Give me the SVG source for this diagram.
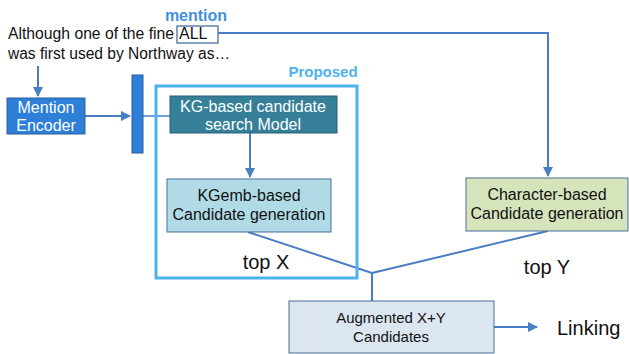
<svg xmlns="http://www.w3.org/2000/svg" width="629" height="354" viewBox="0 0 629 354">
<defs>
<style>
text{font-family:"Liberation Sans",Arial,sans-serif;}
.t{font-size:16px;fill:#111;}
.w{font-size:16px;fill:#fff;text-anchor:middle;}
.b{font-size:16px;fill:#111;text-anchor:middle;}
.big{font-size:20px;fill:#111;text-anchor:middle;}
.ln{stroke:#4a7ec4;stroke-width:2;fill:none;}
.ln1{stroke:#4a7ec4;stroke-width:1.5;fill:none;}
</style>
<marker id="ah" viewBox="0 0 10 10" refX="9" refY="5" markerWidth="5" markerHeight="5" orient="auto-start-reverse">
<path d="M0,0 L10,5 L0,10 z" fill="#4a7ec4"/>
</marker>
</defs>
<rect width="629" height="354" fill="#fff"/>

<g id="sentence">
<text class="t" x="8" y="39" textLength="166" lengthAdjust="spacingAndGlyphs">Although one of the fine</text>
<text class="t" x="179" y="39">ALL</text>
<rect x="177" y="26" width="41" height="17" fill="none" stroke="#4a6f9a" stroke-width="1.3"/>
<text class="t" x="8" y="59" textLength="222" lengthAdjust="spacingAndGlyphs">was first used by Northway as…</text>
<text x="196" y="21" font-size="16" font-weight="bold" fill="#3f8fe0" text-anchor="middle">mention</text>
</g>

<g id="connectors">
<polyline class="ln" points="218,33 548,33 548,176" marker-end="url(#ah)"/>
<line class="ln" x1="38" y1="66" x2="38" y2="96" marker-end="url(#ah)"/>
<line class="ln" x1="85" y1="116" x2="130" y2="116" marker-end="url(#ah)"/>
<line class="ln1" x1="143" y1="116" x2="170" y2="116"/>
<line class="ln" x1="250" y1="133" x2="250" y2="177" marker-end="url(#ah)"/>
<line class="ln" x1="248" y1="232" x2="372" y2="273"/>
<line class="ln" x1="548" y1="231" x2="372" y2="273"/>
<line class="ln" x1="372" y1="273" x2="372" y2="301"/>
<line class="ln" x1="494" y1="327" x2="537" y2="327" marker-end="url(#ah)"/>
</g>

<g id="mention-encoder">
<rect x="7" y="98" width="78" height="36" fill="#2d7fd8" stroke="#2a5f9a" stroke-width="1"/>
<text class="w" x="46" y="113">Mention</text>
<text class="w" x="46" y="131">Encoder</text>
</g>

<g id="embedding-bar">
<rect x="132" y="75" width="11" height="78" fill="#2d7fd8" stroke="#2a5f9a" stroke-width="1"/>
</g>

<g id="proposed">
<rect x="156" y="86" width="201" height="192" fill="none" stroke="#4db3ef" stroke-width="3"/>
<text x="323" y="77" font-size="15" font-weight="bold" fill="#4db3ef" text-anchor="middle">Proposed</text>
</g>

<g id="kg-search">
<rect x="170" y="96" width="167" height="37" fill="#367f98" stroke="#2a5f7a" stroke-width="1"/>
<text class="w" x="253" y="112">KG-based candidate</text>
<text class="w" x="253" y="130">search Model</text>
</g>

<g id="kgemb">
<rect x="167" y="179" width="164" height="53" fill="#b0dbe6" stroke="#4a6f9a" stroke-width="1"/>
<text class="b" x="249" y="201">KGemb-based</text>
<text class="b" x="249" y="220">Candidate generation</text>
<text class="big" x="266" y="269">top X</text>
</g>

<g id="character">
<rect x="466" y="178" width="162" height="53" fill="#d6e4bc" stroke="#4a6f9a" stroke-width="1"/>
<text class="b" x="547" y="200">Character-based</text>
<text class="b" x="547" y="219">Candidate generation</text>
<text class="big" x="547" y="274">top Y</text>
</g>

<g id="augmented">
<rect x="289" y="301" width="205" height="52" fill="#dce6f0" stroke="#4a6f9a" stroke-width="1"/>
<text x="391" y="323" font-size="15" fill="#111" text-anchor="middle">Augmented X+Y</text>
<text x="391" y="342" font-size="15" fill="#111" text-anchor="middle">Candidates</text>
</g>

<g id="linking">
<text x="557" y="335" font-size="20" fill="#111">Linking</text>
</g>
</svg>
